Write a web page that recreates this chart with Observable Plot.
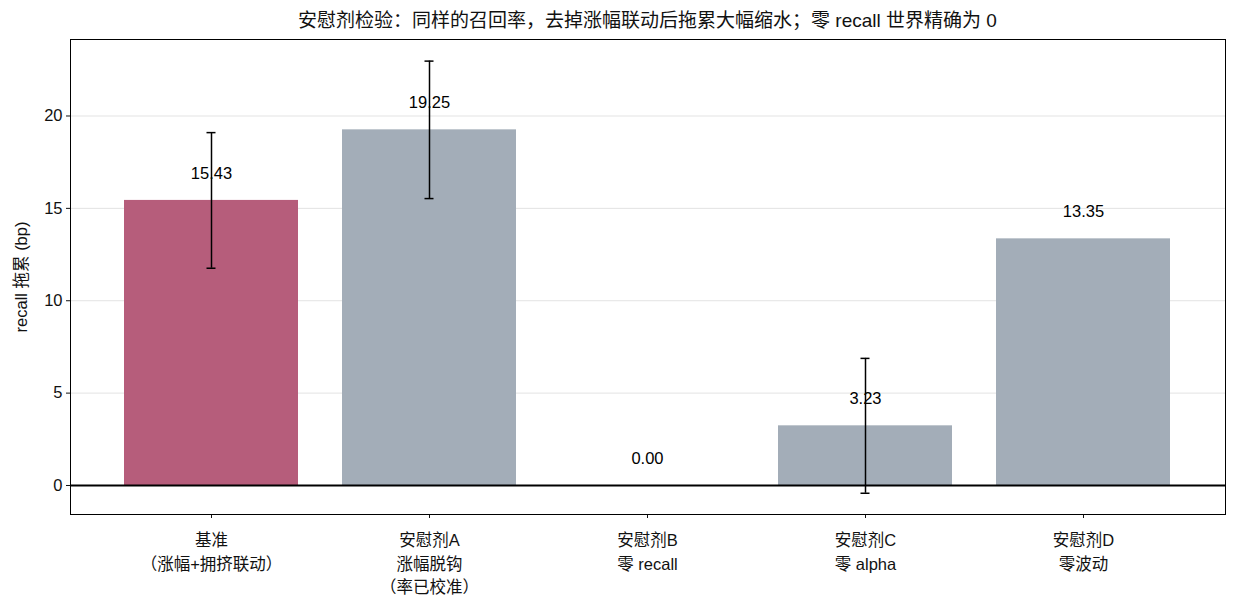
<!DOCTYPE html>
<html>
<head>
<meta charset="utf-8">
<script src="https://cdn.jsdelivr.net/npm/d3@7"></script>
<script src="https://cdn.jsdelivr.net/npm/@observablehq/plot@0.6"></script>
<style>
  html, body { margin: 0; padding: 0; background: #fff; }
  #wrap { position: relative; width: 1237px; height: 612px; font-family: "Liberation Sans", "Noto Sans CJK SC", sans-serif; }
  #title { position: absolute; left: 70px; width: 1155px; top: 8px; text-align: center; font-size: 19px; color: #111; line-height: 26px; }
  #chart { position: absolute; left: 0; top: 0; }
  g[aria-label="x-axis tick label"] text { font-feature-settings: "halt"; }
</style>
</head>
<body>
<div id="wrap">
  <div id="chart"></div>
  <div id="title">安慰剂检验：同样的召回率，去掉涨幅联动后拖累大幅缩水；零 recall 世界精确为 0</div>
</div>
<script>
const categories = ["基准\n（涨幅+拥挤联动）", "安慰剂A\n涨幅脱钩\n（率已校准）", "安慰剂B\n零 recall", "安慰剂C\n零 alpha", "安慰剂D\n零波动"];
const values = [15.43, 19.25, 0.00, 3.23, 13.35];
const errors = [3.67, 3.72, null, 3.65, null];
const colors = ["#b65d7b", "#a3adb8", "#a3adb8", "#a3adb8", "#a3adb8"];
const yTicks = [0, 5, 10, 15, 20];

const data = categories.map((c, i) => ({cat: c, value: values[i], err: errors[i], color: colors[i]}));
const errData = data.filter(d => d.err != null);

const W = 1237, H = 612;
const mL = 70, mR = 12, mT = 39, mB = 98;
const bandW = (W - mL - mR) / 5.28 * 0.8;
const capInset = (bandW - 10) / 2;

const plot = Plot.plot({
  width: W, height: H,
  marginLeft: mL, marginRight: mR, marginTop: mT, marginBottom: mB,
  style: {fontFamily: '"Liberation Sans", "Noto Sans CJK SC", sans-serif', fontSize: "16px", color: "#111", background: "#fff"},
  x: {domain: categories, paddingInner: 0.2, paddingOuter: 0.24, label: null},
  y: {domain: [-1.57, 24.14], label: null},
  marks: [
    Plot.gridY(yTicks, {stroke: "#e3e3e3", strokeOpacity: 1, strokeWidth: 1}),
    Plot.barY(data, {x: "cat", y: "value", fill: "color"}),
    Plot.ruleY([0], {stroke: "#000", strokeWidth: 1.8}),
    Plot.ruleX(errData, {x: "cat", y1: d => d.value - d.err, y2: d => d.value + d.err, stroke: "#000", strokeWidth: 1.5}),
    Plot.tickY(errData, {x: "cat", y: d => d.value - d.err, stroke: "#000", strokeWidth: 1.5, insetLeft: capInset, insetRight: capInset}),
    Plot.tickY(errData, {x: "cat", y: d => d.value + d.err, stroke: "#000", strokeWidth: 1.5, insetLeft: capInset, insetRight: capInset}),
    Plot.text(data, {x: "cat", y: "value", text: d => d.value.toFixed(2), dy: -27, fontSize: 16.5, fill: "#000"}),
    Plot.axisY(yTicks, {tickSize: 4, tickPadding: 4, fontSize: 16.5, label: "recall 拖累 (bp)", labelAnchor: "center", labelArrow: "none", labelOffset: 55}),
    Plot.axisX({tickSize: 4, tickPadding: 11, fontSize: 16.5, lineHeight: 1.42, lineAnchor: "top"}),
    Plot.frame({stroke: "#000", strokeWidth: 1})
  ]
});
document.getElementById("chart").appendChild(plot);
</script>
</body>
</html>
